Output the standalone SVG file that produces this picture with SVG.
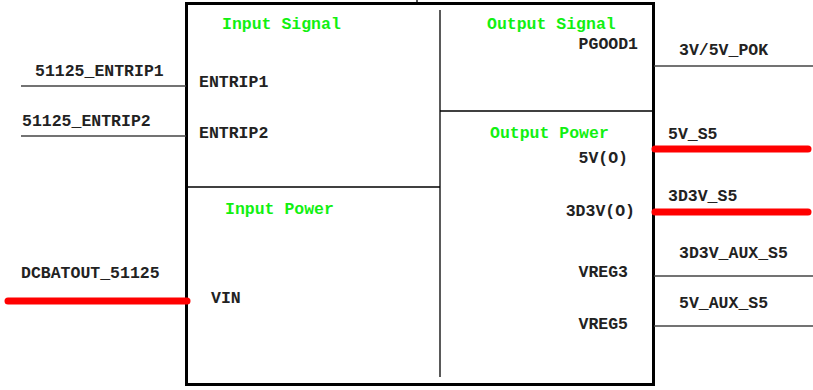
<svg xmlns="http://www.w3.org/2000/svg" width="813" height="390" viewBox="0 0 813 390">
<style>
text{font-family:"Liberation Mono","Courier New",monospace;font-weight:bold;font-size:16.5px;fill:#222}
.g{fill:#11f011}
.e{text-anchor:end}
.w{stroke:#444;stroke-width:1.3;fill:none}
.r{stroke:#ff0000;stroke-width:7;stroke-linecap:round;fill:none}
.b{stroke:#000;fill:none}
</style>
<rect width="813" height="390" fill="#fff"/>
<g id="block">
<line class="b" x1="417" y1="0" x2="417" y2="3" stroke-width="1.3"/>
<rect class="b" x="186.5" y="3.5" width="467" height="381" stroke-width="3"/>
<line class="b" x1="440" y1="10" x2="440" y2="377" stroke-width="1.3"/>
<line class="b" x1="186" y1="187" x2="440" y2="187" stroke-width="1.3"/>
<line class="b" x1="440" y1="111" x2="655" y2="111" stroke-width="1.3"/>
<text class="g" x="222" y="29">Input Signal</text>
<text x="199" y="87">ENTRIP1</text>
<text x="199" y="138">ENTRIP2</text>
<text class="g" x="225" y="214">Input Power</text>
<text x="211" y="303">VIN</text>
<text class="g" x="487" y="29">Output Signal</text>
<text class="e" x="638" y="49">PGOOD1</text>
<text class="g" x="490" y="138">Output Power</text>
<text class="e" x="628" y="163">5V(O)</text>
<text class="e" x="635" y="216">3D3V(O)</text>
<text class="e" x="628" y="277">VREG3</text>
<text class="e" x="628" y="329">VREG5</text>
</g>
<g id="connectors">
<line class="w" x1="21" y1="86" x2="186" y2="86"/>
<line class="w" x1="21" y1="136" x2="186" y2="136"/>
<line class="r" x1="8" y1="301" x2="187" y2="301"/>
<line class="w" x1="654" y1="66" x2="813" y2="66"/>
<line class="r" x1="655" y1="149" x2="808" y2="149"/>
<line class="r" x1="655" y1="212" x2="808" y2="212"/>
<line class="w" x1="654" y1="276" x2="813" y2="276"/>
<line class="w" x1="654" y1="326" x2="813" y2="326"/>
</g>
<g id="labels">
<text x="35" y="76">51125_ENTRIP1</text>
<text x="22" y="126">51125_ENTRIP2</text>
<text x="21" y="278">DCBATOUT_51125</text>
<text x="679" y="55">3V/5V_POK</text>
<text x="668" y="139">5V_S5</text>
<text x="668" y="201">3D3V_S5</text>
<text x="679" y="258">3D3V_AUX_S5</text>
<text x="679" y="308">5V_AUX_S5</text>
</g>
</svg>
